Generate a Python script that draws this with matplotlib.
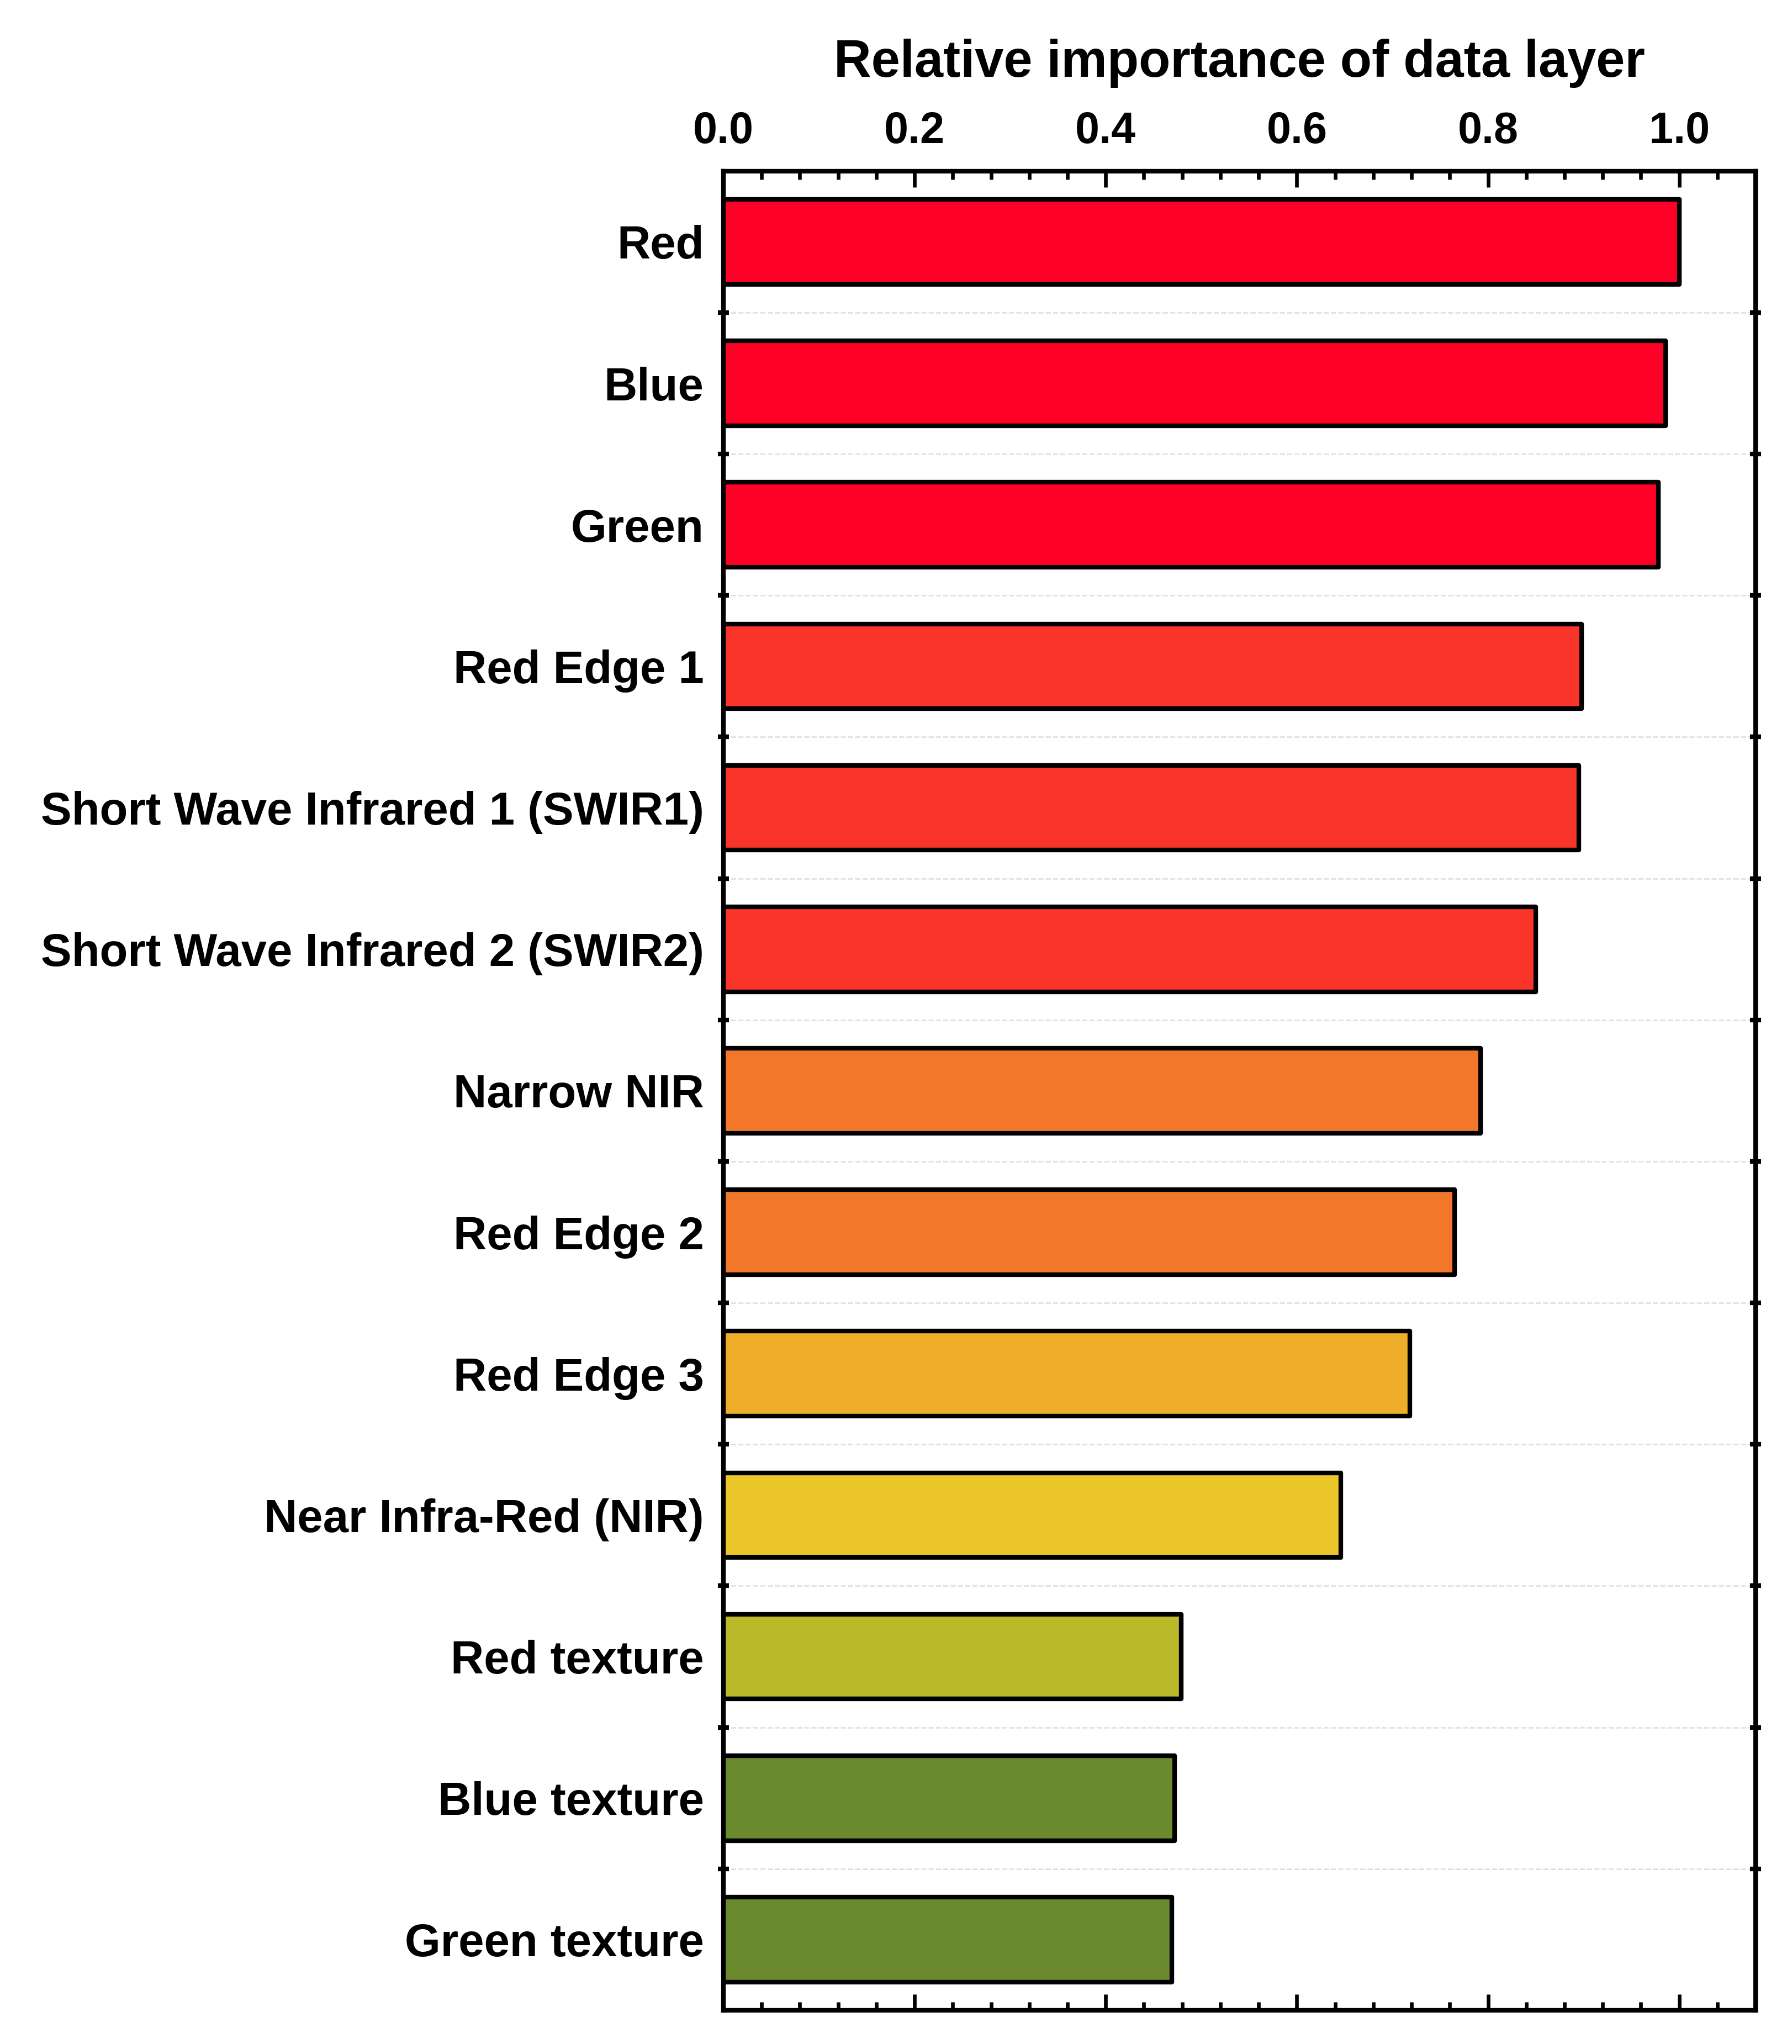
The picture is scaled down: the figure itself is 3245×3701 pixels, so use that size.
import matplotlib.pyplot as plt
import numpy as np
from matplotlib.ticker import MultipleLocator, FixedLocator

plt.rcParams['font.family'] = ['Liberation Sans', 'DejaVu Sans']
plt.rcParams['font.weight'] = 'bold'

layers = ['Red', 'Blue', 'Green', 'Red Edge 1', 'Short Wave Infrared 1 (SWIR1)',
          'Short Wave Infrared 2 (SWIR2)', 'Narrow NIR', 'Red Edge 2', 'Red Edge 3',
          'Near Infra-Red (NIR)', 'Red texture', 'Blue texture', 'Green texture']
importance = [1.0, 0.986, 0.978, 0.898, 0.895, 0.850, 0.792, 0.765, 0.718,
              0.646, 0.479, 0.472, 0.469]
colors = ['#FF0026', '#FF0026', '#FF0026', '#F9352A', '#F9352A', '#F9352A',
          '#F3772B', '#F3772B', '#EEAE29', '#EBC62A', '#BAB92A', '#6B8A2E', '#6B8A2E']

fig = plt.figure(figsize=(3245 / 300, 3701 / 300), dpi=300)
ax = fig.add_axes([0.4037, 0.0165, 0.576, 0.8998])

ypos = np.arange(len(layers))
bars = ax.barh(ypos, importance, height=0.6, color=colors, edgecolor='black',
               linewidth=2.0, zorder=3)
for b in bars:
    b.set_joinstyle('round')

ax.set_xlim(0, 1.08)
ax.set_ylim(len(layers) - 0.5, -0.5)

ax.xaxis.tick_top()
ax.xaxis.set_label_position('top')
ax.xaxis.set_minor_locator(MultipleLocator(0.04))
ax.set_xticks([0, 0.2, 0.4, 0.6, 0.8, 1.0])
ax.set_xticklabels(['0.0', '0.2', '0.4', '0.6', '0.8', '1.0'])
ax.tick_params(axis='x', which='both', direction='in', top=True, bottom=True,
               labeltop=True, labelbottom=False, width=1.6, labelsize=19, pad=8)
ax.tick_params(axis='x', which='major', length=7)
ax.tick_params(axis='x', which='minor', length=3.5)
ax.set_xlabel('Relative importance of data layer', fontsize=22.5, fontweight='bold',
              labelpad=15)

ax.set_yticks(ypos)
ax.set_yticklabels(layers)
ax.yaxis.set_minor_locator(FixedLocator(np.arange(0.5, len(layers) - 1, 1.0)))
ax.tick_params(axis='y', which='major', length=0, labelsize=20, pad=8.5)
ax.tick_params(axis='y', which='minor', direction='inout', length=5, width=2.0,
               left=True, right=True)
ax.grid(axis='y', which='minor', linestyle='--', color='#dddddd', linewidth=0.6, zorder=0)

for s in ax.spines.values():
    s.set_linewidth(2.0)

fig.savefig('out.png', dpi=300)
